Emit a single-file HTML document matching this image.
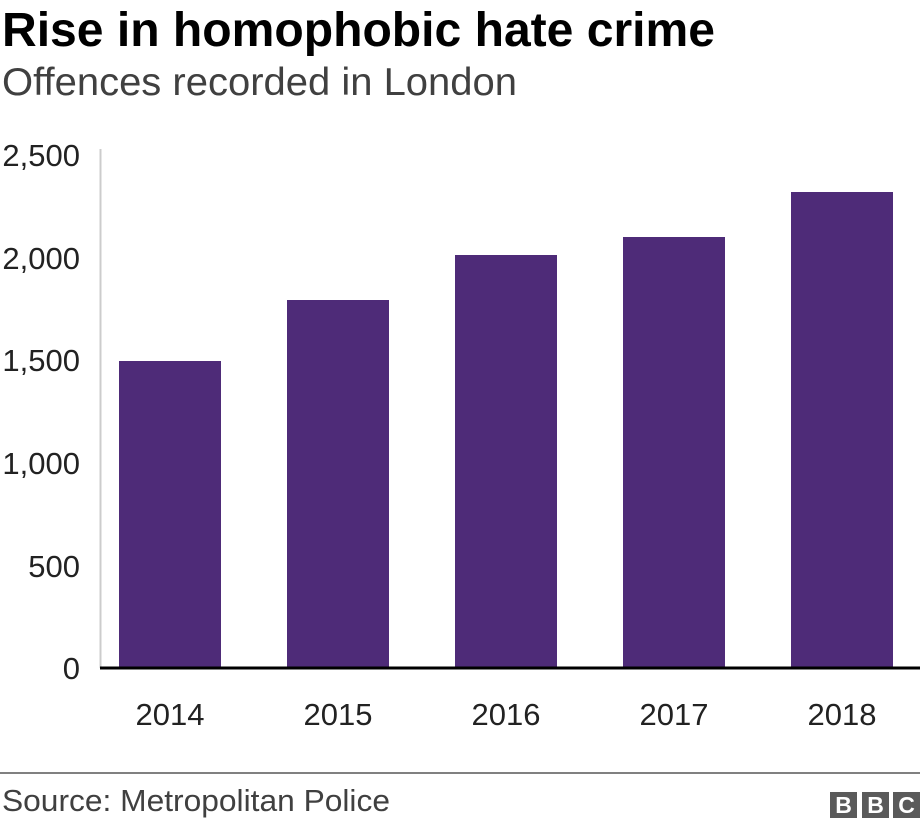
<!DOCTYPE html>
<html><head><meta charset="utf-8"><style>
body{margin:0;background:#fff;width:920px;height:828px;overflow:hidden;font-family:"Liberation Sans",Arial,sans-serif}
</style></head><body>
<svg width="920" height="828" xmlns="http://www.w3.org/2000/svg" font-family="Liberation Sans, Arial, sans-serif">
<text x="2" y="46" font-size="48" font-weight="bold" fill="#000" textLength="713" lengthAdjust="spacingAndGlyphs">Rise in homophobic hate crime</text>
<text x="2" y="95" font-size="39" fill="#404040" textLength="515" lengthAdjust="spacingAndGlyphs">Offences recorded in London</text>
<line x1="100.5" y1="149" x2="100.5" y2="668" stroke="#ccc" stroke-width="2"/>
<g font-size="31" fill="#222" text-anchor="end">
<text x="80" y="166">2,500</text>
<text x="80" y="269">2,000</text>
<text x="80" y="371">1,500</text>
<text x="80" y="474">1,000</text>
<text x="80" y="577">500</text>
<text x="80" y="679">0</text>
</g>
<g fill="#4e2b78">
<rect x="119" y="361" width="102" height="307"/>
<rect x="287" y="300" width="102" height="368"/>
<rect x="455" y="255" width="102" height="413"/>
<rect x="623" y="237" width="102" height="431"/>
<rect x="791" y="192" width="102" height="476"/>
</g>
<line x1="100" y1="668" x2="920" y2="668" stroke="#000" stroke-width="3"/>
<g font-size="31" fill="#222" text-anchor="middle">
<text x="170" y="725">2014</text>
<text x="338" y="725">2015</text>
<text x="506" y="725">2016</text>
<text x="674" y="725">2017</text>
<text x="842" y="725">2018</text>
</g>
<line x1="0" y1="773" x2="920" y2="773" stroke="#808080" stroke-width="2"/>
<text x="2" y="811" font-size="31" fill="#404040" textLength="388" lengthAdjust="spacingAndGlyphs">Source: Metropolitan Police</text>
<g fill="#5a5a5a">
<rect x="830" y="792" width="27" height="26"/>
<rect x="862" y="792" width="27" height="26"/>
<rect x="893" y="792" width="27" height="26"/>
</g>
<g font-size="23" font-weight="bold" fill="#fff" text-anchor="middle">
<text x="843.5" y="813">B</text>
<text x="875.5" y="813">B</text>
<text x="906.5" y="813">C</text>
</g>
</svg>
</body></html>
